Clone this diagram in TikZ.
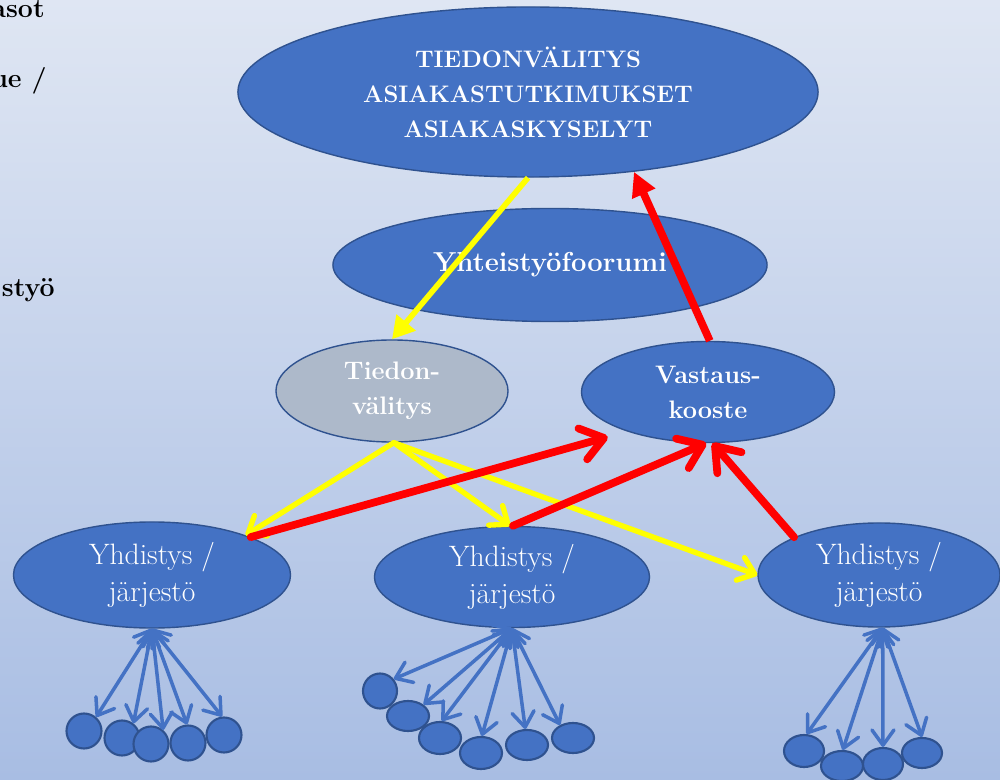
\documentclass[tikz,border=0pt]{standalone}
\usetikzlibrary{arrows.meta,shapes.geometric}
\definecolor{bfill}{HTML}{4472C4}
\definecolor{bdraw}{HTML}{2F528F}
\definecolor{gfill}{HTML}{ADB9CA}
\definecolor{bgtop}{HTML}{DFE6F3}
\definecolor{bgbot}{HTML}{A8BDE3}
\definecolor{ylw}{HTML}{FFFF00}
\definecolor{rd}{HTML}{FF0000}
\definecolor{barrc}{HTML}{4472C4}
\begin{document}
\begin{tikzpicture}[x=0.025cm,y=-0.025cm,
 oval/.style={ellipse, draw=bdraw, line width=1pt, fill=bfill, text=white, inner sep=0pt, align=center},
 dot/.style={ellipse, draw=bdraw, line width=1.5pt, fill=bfill, inner sep=0pt},
 yarr/.style={draw=ylw, line width=3.8pt, line cap=round, -{Straight Barb[round,length=0.38cm,width=0.6cm]}},
 ytri/.style={draw=ylw, line width=4pt, -{Triangle[length=0.55cm,width=0.6cm]}},
 rarr/.style={draw=rd, line width=5.5pt, line cap=round, -{Straight Barb[round,length=0.55cm,width=0.8cm]}},
 rtri/.style={draw=rd, line width=5.5pt, -{Triangle[length=0.6cm,width=0.6cm]}},
 bluearr/.style={draw=barrc, line width=2.5pt, line cap=round, {Straight Barb[round,length=0.38cm,width=0.55cm]}-{Straight Barb[round,length=0.38cm,width=0.55cm]}},
 side/.style={font=\fontsize{19}{22}\selectfont\bfseries, text=black, inner sep=0pt, anchor=base east},
 big/.style={font=\fontsize{17}{24.8}\selectfont\bfseries},
 mid/.style={font=\fontsize{18}{24.8}\selectfont\bfseries},
 reg/.style={font=\fontsize{21}{26.5}\selectfont}
]
\useasboundingbox (0,0) rectangle (1000,780);
\fill[top color=bgtop, bottom color=bgbot] (0,0) rectangle (1000,780);

% side texts
\node[side] (s1) at (45,18) {asot};
\node[side] (s2) at (47,88) {ue /};
\node[side] (s3) at (55,297) {styö};

% main ellipses
\node[oval, big, minimum width=14.5cm, minimum height=4.25cm] (top) at (528,92)
 {TIEDONVÄLITYS\\ASIAKASTUTKIMUKSET\\ASIAKASKYSELYT};
\node[oval, font=\fontsize{19.5}{22}\selectfont\bfseries, minimum width=10.85cm, minimum height=2.825cm] (forum) at (550,265) {Yhteistyöfoorumi};
\node[oval, mid, fill=gfill, minimum width=5.8cm, minimum height=2.55cm] (tied) at (392,391) {Tiedon-\\välitys};
\node[oval, mid, minimum width=6.325cm, minimum height=2.525cm] (vast) at (708,392) {Vastaus-\\kooste};
\node[oval, reg, minimum width=6.925cm, minimum height=2.65cm] (y1) at (152,575) {Yhdistys /\\järjestö};
\node[oval, reg, minimum width=6.875cm, minimum height=2.525cm] (y2) at (512,577) {Yhdistys /\\järjestö};
\node[oval, reg, minimum width=6.05cm, minimum height=2.6cm] (y3) at (879,575) {Yhdistys /\\järjestö};

% member dots, left group
\node[dot, minimum width=0.875cm, minimum height=0.875cm] (a1) at (84,731) {};
\node[dot, minimum width=0.875cm, minimum height=0.875cm] (a2) at (122,738) {};
\node[dot, minimum width=0.875cm, minimum height=0.875cm] (a3) at (151,744) {};
\node[dot, minimum width=0.875cm, minimum height=0.875cm] (a4) at (188,743) {};
\node[dot, minimum width=0.875cm, minimum height=0.875cm] (a5) at (224,735) {};
% middle group
\node[dot, minimum width=0.85cm, minimum height=0.875cm] (b1) at (380,691) {};
\node[dot, minimum width=1.05cm, minimum height=0.75cm] (b2) at (408,716) {};
\node[dot, minimum width=1.05cm, minimum height=0.8cm] (b3) at (440,738) {};
\node[dot, minimum width=1.05cm, minimum height=0.8cm] (b4) at (481,753) {};
\node[dot, minimum width=1.05cm, minimum height=0.75cm] (b5) at (527,745) {};
\node[dot, minimum width=1.05cm, minimum height=0.75cm] (b6) at (573,738) {};
% right group
\node[dot, minimum width=1.0cm, minimum height=0.8cm] (c1) at (804,751) {};
\node[dot, minimum width=1.05cm, minimum height=0.75cm] (c2) at (842,766) {};
\node[dot, minimum width=1.0cm, minimum height=0.8cm] (c3) at (883,764) {};
\node[dot, minimum width=1.0cm, minimum height=0.75cm] (c4) at (922,753) {};

% blue fans
\foreach \t/\a in {a1/49,a2/52,a3/49,a4/93,a5/96}
  \draw[bluearr] (y1.-90) -- (\t.\a);
\foreach \t/\a in {b1/41,b2/36,b3/84,b4/87,b5/96,b6/135}
  \draw[bluearr] (y2.-90) -- (\t.\a);
\foreach \t/\a in {c1/81,c2/87,c3/90,c4/90}
  \draw[bluearr] (y3.-86) -- (\t.\a);

% yellow arrows
\draw[ytri] (top.-90) -- (tied.90);
\draw[yarr] (tied.-88) -- (y1.23);
\draw[yarr] (tied.-88) -- (y2.92);
\draw[yarr] (tied.-88) -- (y3.180);

% red arrows
\draw[rtri] (vast.88) -- (top.-37);
\draw[rarr, shorten >=0.5cm] (y1.21) -- (vast.206);
\draw[rarr] (y2.89) -- (vast.-92);
\draw[rarr] (y3.156) -- (vast.-85);
\end{tikzpicture}
\end{document}
